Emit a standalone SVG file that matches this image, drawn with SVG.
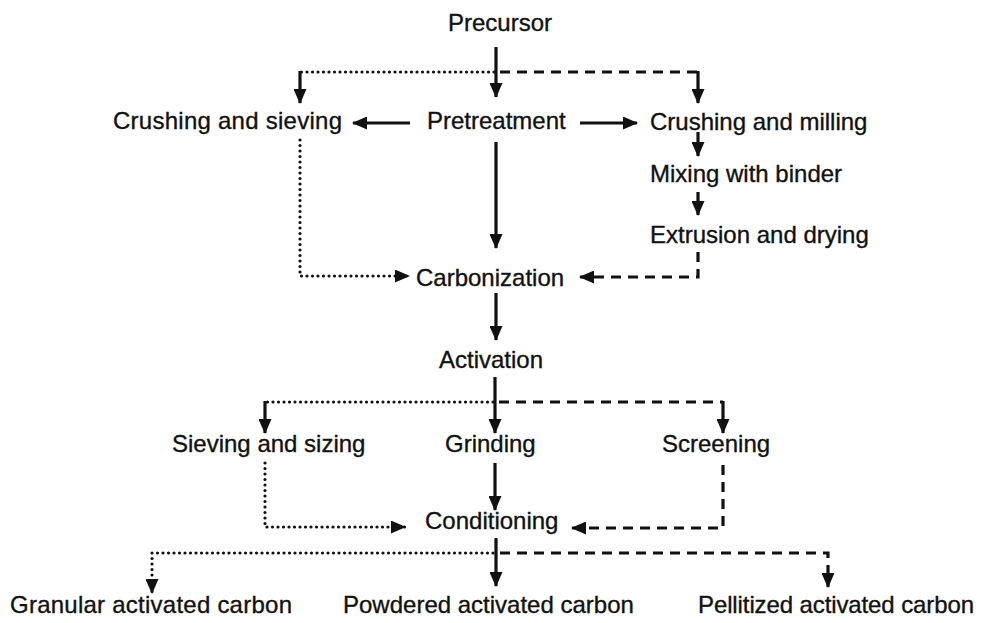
<svg xmlns="http://www.w3.org/2000/svg" width="986" height="623" viewBox="0 0 986 623">
<defs>
<style>
text{font-family:"Liberation Sans",Arial,sans-serif;font-size:24px;fill:#111;stroke:#111;stroke-width:0.35px;}
.s{fill:none;stroke:#111;stroke-width:3.2;}
.dot{fill:none;stroke:#111;stroke-width:3.2;stroke-dasharray:0 5.5;stroke-linecap:round;}
.dash{fill:none;stroke:#111;stroke-width:3.2;stroke-dasharray:10 7;}
.a{marker-end:url(#ah);}
</style>
<marker id="ah" viewBox="0 0 15 13" refX="14" refY="6.5" markerWidth="15" markerHeight="13" markerUnits="userSpaceOnUse" orient="auto">
<path d="M0,0 L15,6.5 L0,13 z" fill="#111"/>
</marker>
</defs>
<rect width="986" height="623" fill="#fff"/>
<g id="connectors">
<path class="s a" d="M496,47 V97"/>
<path class="s a" d="M410,123 H353"/>
<path class="s a" d="M580,123 H637"/>
<path class="s a" d="M496,142 V248"/>
<path class="s a" d="M698,132 V156"/>
<path class="s a" d="M698,192 V215"/>
<path class="s a" d="M496,293 V340"/>
<path class="s a" d="M495,377 V433"/>
<path class="s a" d="M495,463 V510"/>
<path class="s a" d="M496,538 V586"/>
<g id="c-pre-sieve"><path class="dot" d="M494,72 H300"/><path class="s a" d="M300,71 V103"/></g>
<path class="dot a" d="M300,140 V276 H409"/>
<g id="c-act-sieve"><path class="dot" d="M493,402 H265"/><path class="s a" d="M265,401 V433"/></g>
<path class="dot a" d="M265,463 V527 H405"/>
<path class="dot a" d="M493,553 H152 V593"/>
<g id="c-pre-mill"><path class="dash" d="M500,72 H698"/><path class="s a" d="M698,71 V103"/></g>
<path class="dash a" d="M698,252 V277 H580"/>
<g id="c-act-screen"><path class="dash" d="M499,402 H723"/><path class="s a" d="M723,401 V433"/></g>
<path class="dash a" d="M723,465 V528 H572"/>
<path class="dash a" d="M500,553 H828 V587"/>
</g>
<g id="precursor"><text x="448" y="31">Precursor</text></g>
<g id="pretreatment"><text x="427" y="129">Pretreatment</text></g>
<g id="crushing-sieving"><text x="113" y="129" textLength="229">Crushing and sieving</text></g>
<g id="crushing-milling"><text x="650" y="130">Crushing and milling</text></g>
<g id="mixing"><text x="650" y="182">Mixing with binder</text></g>
<g id="extrusion"><text x="650" y="243">Extrusion and drying</text></g>
<g id="carbonization"><text x="416" y="286">Carbonization</text></g>
<g id="activation"><text x="439" y="368">Activation</text></g>
<g id="sieving-sizing"><text x="172" y="452">Sieving and sizing</text></g>
<g id="grinding"><text x="445" y="452">Grinding</text></g>
<g id="screening"><text x="662" y="452">Screening</text></g>
<g id="conditioning"><text x="425" y="529">Conditioning</text></g>
<g id="granular"><text x="10" y="613" textLength="282">Granular activated carbon</text></g>
<g id="powdered"><text x="343" y="613">Powdered activated carbon</text></g>
<g id="pellitized"><text x="698" y="613" textLength="276">Pellitized activated carbon</text></g>
</svg>
